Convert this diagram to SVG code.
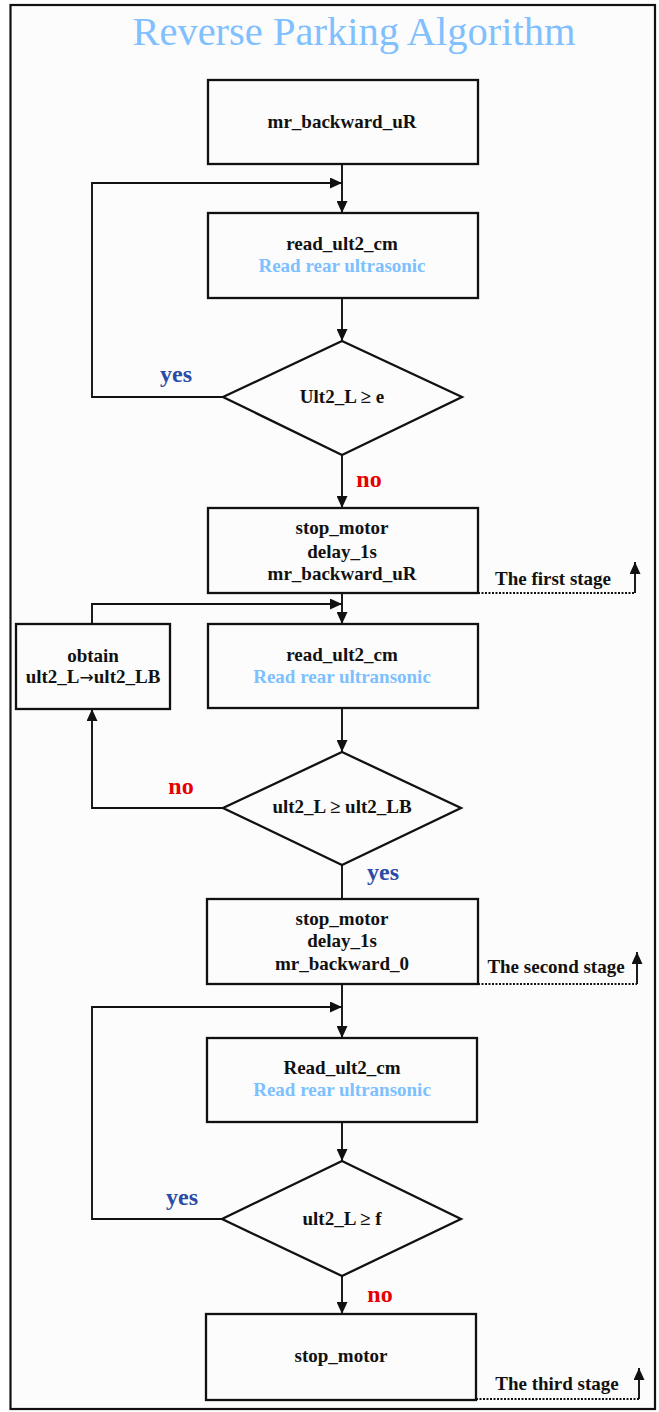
<svg xmlns="http://www.w3.org/2000/svg" width="659" height="1412" viewBox="0 0 659 1412">
<style>
.frame{fill:#fcfcfc;stroke:#111;stroke-width:2.2}
.box{fill:none;stroke:#111;stroke-width:2.3}
.ln{fill:none;stroke:#111;stroke-width:1.9}
.dot{fill:none;stroke:#111;stroke-width:1.8;stroke-dasharray:2 1.5}
.t{font-family:"Liberation Serif","Times New Roman",serif;font-weight:bold;font-size:19px;text-anchor:middle;fill:#111}
.lb{fill:#7dc0ff}
.yes{fill:#2b4ba6;font-size:24px}
.no{fill:#e60000;font-size:24px}
.arr{font-family:"DejaVu Sans",sans-serif;font-weight:normal;font-size:17px}
.title{font-family:"Liberation Serif","Times New Roman",serif;font-size:40.5px;text-anchor:middle;fill:#80c0ff}
</style>
<defs>
<marker id="ah" markerUnits="userSpaceOnUse" markerWidth="12" markerHeight="11" refX="12" refY="5.5" orient="auto">
<path d="M0,0 L12,5.5 L0,11 z" fill="#111"/>
</marker>
</defs>
<rect class="frame" x="10.5" y="5" width="644.5" height="1404"/>
<text class="title" x="354" y="45">Reverse Parking Algorithm</text>

<g id="connectors">
<path class="ln" d="M342,164 V213" marker-end="url(#ah)"/>
<path class="ln" d="M223,397 H92 V183 H342" marker-end="url(#ah)"/>
<path class="ln" d="M342,298 V341" marker-end="url(#ah)"/>
<path class="ln" d="M342,455 V508" marker-end="url(#ah)"/>
<path class="ln" d="M342,593 V624" marker-end="url(#ah)"/>
<path class="ln" d="M92,624 V604 H342" marker-end="url(#ah)"/>
<path class="ln" d="M342,708 V752" marker-end="url(#ah)"/>
<path class="ln" d="M223,808 H92 V709" marker-end="url(#ah)"/>
<path class="ln" d="M342,865 V899"/>
<path class="ln" d="M342,984 V1038" marker-end="url(#ah)"/>
<path class="ln" d="M222,1219 H92 V1007 H342" marker-end="url(#ah)"/>
<path class="ln" d="M342,1122 V1161" marker-end="url(#ah)"/>
<path class="ln" d="M342,1276 V1314" marker-end="url(#ah)"/>
<path class="dot" d="M478,593 H635"/>
<path class="ln" d="M635,593 V562" marker-end="url(#ah)"/>
<path class="dot" d="M478,984 H637"/>
<path class="ln" d="M637,984 V952" marker-end="url(#ah)"/>
<path class="dot" d="M476,1399 H639"/>
<path class="ln" d="M639,1399 V1368" marker-end="url(#ah)"/>
<text class="t yes" x="176" y="382">yes</text>
<text class="t no" x="369" y="487">no</text>
<text class="t no" x="181" y="794">no</text>
<text class="t yes" x="383" y="880">yes</text>
<text class="t yes" x="182" y="1205">yes</text>
<text class="t no" x="380" y="1302">no</text>
<text class="t" x="553" y="585">The first stage</text>
<text class="t" x="556" y="973">The second stage</text>
<text class="t" x="557" y="1390">The third stage</text>
</g>

<g id="n1">
<rect class="box" x="208" y="80" width="270" height="84"/>
<text class="t" x="342" y="128">mr_backward_uR</text>
</g>
<g id="n2">
<rect class="box" x="208" y="213" width="270" height="85"/>
<text class="t" x="342" y="250">read_ult2_cm</text>
<text class="t lb" x="342" y="272">Read rear ultrasonic</text>
</g>
<g id="d1">
<polygon class="box" points="342,341 462,397 342,455 223,397"/>
<text class="t" x="342" y="403">Ult2_L ≥ e</text>
</g>
<g id="n3">
<rect class="box" x="208" y="508" width="270" height="85"/>
<text class="t" x="342" y="534">stop_motor</text>
<text class="t" x="342" y="558">delay_1s</text>
<text class="t" x="342" y="580">mr_backward_uR</text>
</g>
<g id="n4">
<rect class="box" x="208" y="624" width="270" height="84"/>
<text class="t" x="342" y="661">read_ult2_cm</text>
<text class="t lb" x="342" y="683">Read rear ultransonic</text>
</g>
<g id="nobtain">
<rect class="box" x="16" y="624" width="154" height="85"/>
<text class="t" x="93" y="662">obtain</text>
<text class="t" x="93" y="683">ult2_L<tspan class="arr">→</tspan>ult2_LB</text>
</g>
<g id="d2">
<polygon class="box" points="342,752 461,808 342,865 223,808"/>
<text class="t" x="342" y="813">ult2_L ≥ ult2_LB</text>
</g>
<g id="n5">
<rect class="box" x="207" y="899" width="271" height="85"/>
<text class="t" x="342" y="925">stop_motor</text>
<text class="t" x="342" y="947">delay_1s</text>
<text class="t" x="342" y="970">mr_backward_0</text>
</g>
<g id="n6">
<rect class="box" x="207" y="1038" width="270" height="84"/>
<text class="t" x="342" y="1074">Read_ult2_cm</text>
<text class="t lb" x="342" y="1096">Read rear ultransonic</text>
</g>
<g id="d3">
<polygon class="box" points="342,1161 461,1219 342,1276 222,1219"/>
<text class="t" x="342" y="1225">ult2_L ≥ f</text>
</g>
<g id="n7">
<rect class="box" x="206" y="1314" width="270" height="86"/>
<text class="t" x="341" y="1362">stop_motor</text>
</g>
</svg>
